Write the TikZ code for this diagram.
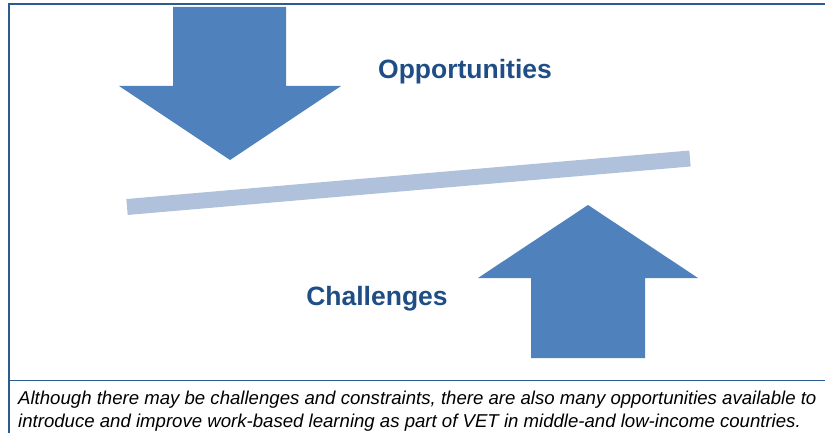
\documentclass[tikz,border=0pt]{standalone}
\usepackage{fontspec}
\setmainfont{Liberation Sans}
\definecolor{arrowblue}{HTML}{4F81BD}
\definecolor{barblue}{HTML}{B0C1DC}
\definecolor{titleblue}{HTML}{1F4E86}
\definecolor{frameblue}{HTML}{2C5B90}
\begin{document}
\begin{tikzpicture}[x=1pt,y=-1pt,
  title/.style={text=titleblue,inner sep=0pt,font=\fontsize{26.5}{30}\selectfont\bfseries},
  caption/.style={anchor=base west,inner sep=0pt,font=\fontsize{18.6}{22}\selectfont\itshape}]
\useasboundingbox (0,0) rectangle (825,433);

%frame
\draw [frameblue,line width=1.5pt] (9,433) -- (9,4) -- (825,4);
\draw [frameblue,line width=1.2pt] (9,380.5) -- (825,380.5);

%down arrow
\fill [arrowblue] (173,7) -- (286,7) -- (286,86) -- (341,86) -- (230,160) -- (119,86) -- (173,86) -- cycle;

%up arrow
\fill [arrowblue] (531,358) -- (645,358) -- (645,278) -- (698,278) -- (588,205) -- (478,278) -- (531,278) -- cycle;

%bar
\coordinate (L) at (127,207);
\coordinate (R) at (690,158.5);
\draw [barblue,line width=16pt] (L) -- (R);

\node[title] (opp) at (465,71.5) {Opportunities};
\node[title] (chal) at (377,298.5) {Challenges};

\node[caption] (cap1) at (18,404) {Although there may be challenges and constraints, there are also many opportunities available to};
\node[caption] (cap2) at (18,427) {introduce and improve work-based learning as part of VET in middle-and low-income countries.};
\end{tikzpicture}
\end{document}
